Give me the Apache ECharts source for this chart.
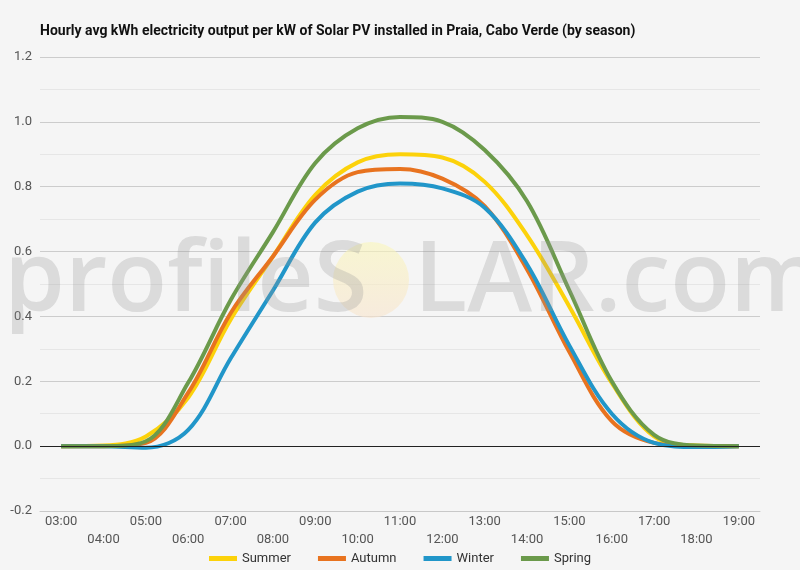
<!DOCTYPE html>
<html>
<head>
<meta charset="utf-8">
<script src="https://cdn.jsdelivr.net/npm/echarts@6/dist/echarts.min.js"></script>
<style>
  html, body { margin: 0; padding: 0; background: #f5f5f5; }
  #chart { width: 800px; height: 570px; }
</style>
</head>
<body>
<div id="chart"></div>
<script>
// hours of the day
const hours = ['03:00', '04:00', '05:00', '06:00', '07:00', '08:00', '09:00', '10:00', '11:00',
               '12:00', '13:00', '14:00', '15:00', '16:00', '17:00', '18:00', '19:00'];
// kWh per kW
const summer = [0, 0.002, 0.03, 0.15, 0.39, 0.585, 0.775, 0.875, 0.90, 0.89, 0.815, 0.65, 0.43, 0.195, 0.03, 0.002, 0];
const autumn = [0, 0, 0.01, 0.165, 0.41, 0.585, 0.76, 0.845, 0.855, 0.825, 0.74, 0.545, 0.29, 0.077, 0.01, 0, 0];
const winter = [0, 0, -0.005, 0.05, 0.27, 0.48, 0.69, 0.785, 0.81, 0.795, 0.735, 0.56, 0.31, 0.10, 0.01, -0.003, 0];
const spring = [0, 0, 0.015, 0.196, 0.45, 0.66, 0.873, 0.98, 1.015, 1.0, 0.913, 0.755, 0.48, 0.20, 0.035, 0.002, 0];

const seasons = ['Summer', 'Autumn', 'Winter', 'Spring'];
const colors = ['#fcd20a', '#e8731f', '#2196c9', '#6b9a4b'];
const values = [summer, autumn, winter, spring];

const chart = echarts.init(document.getElementById('chart'));

const font = 'Roboto, "Noto Sans", sans-serif';

const option = {
    backgroundColor: '#f5f5f5',
    animation: false,
    color: colors,
    textStyle: { fontFamily: font },
    title: {
        text: 'Hourly avg kWh electricity output per kW of Solar PV installed in Praia, Cabo Verde (by season)',
        left: 35,
        top: 19,
        textStyle: { fontSize: 14, fontWeight: 'bold', color: '#111', fontFamily: font }
    },
    legend: {
        bottom: 0,
        left: 'center',
        icon: 'rect',
        itemWidth: 28,
        itemHeight: 5,
        itemGap: 27,
        data: seasons,
        textStyle: { fontSize: 13, color: '#333' }
    },
    grid: { left: 40, right: 40, top: 57, bottom: 59, containLabel: false },
    xAxis: {
        type: 'category',
        data: hours,
        boundaryGap: true,
        axisLine: { onZero: false, lineStyle: { color: '#c8c8c8' } },
        axisTick: { show: false },
        axisLabel: {
            interval: 0,
            margin: 2,
            fontSize: 13,
            color: '#555',
            lineHeight: 18,
            formatter: (v, i) => (i % 2 === 0 ? v : '\n' + v)
        }
    },
    yAxis: {
        type: 'value',
        min: -0.2,
        max: 1.2,
        interval: 0.2,
        axisLine: { show: false },
        axisTick: { show: false },
        axisLabel: {
            fontSize: 13,
            color: '#555',
            margin: 8,
            formatter: v => v.toFixed(1)
        },
        splitLine: { lineStyle: { color: '#cccccc' } },
        minorTick: { show: false, splitNumber: 2 },
        minorSplitLine: { show: true, lineStyle: { color: '#e6e6e6' } }
    },
    series: seasons.map((name, i) => ({
        name: name,
        type: 'line',
        smooth: 0.35,
        showSymbol: false,
        data: values[i],
        lineStyle: { width: 4, color: colors[i] },
        markLine: i === 0 ? {
            silent: true,
            symbol: 'none',
            label: { show: false },
            lineStyle: { color: '#222', width: 1, type: 'solid' },
            data: [{ yAxis: 0 }]
        } : undefined
    })),
    graphic: [
        {
            type: 'circle',
            z: 100,
            shape: { cx: 371, cy: 280, r: 38 },
            style: {
                fill: {
                    type: 'linear', x: 0, y: 0, x2: 0, y2: 1,
                    colorStops: [
                        { offset: 0, color: 'rgba(250,246,185,0.6)' },
                        { offset: 1, color: 'rgba(248,228,205,0.6)' }
                    ]
                }
            }
        },
        {
            type: 'text',
            z: 100,
            left: 4,
            top: 234,
            style: {
                text: 'profileS',
                font: '600 98px "Open Sans", sans-serif',
                fill: 'rgba(150,150,150,0.28)'
            }
        },
        {
            type: 'text',
            z: 100,
            left: 414,
            top: 234,
            style: {
                text: 'LAR.com',
                font: '600 98px "Open Sans", sans-serif',
                fill: 'rgba(150,150,150,0.28)'
            }
        }
    ]
};

chart.setOption(option);
</script>
</body>
</html>
